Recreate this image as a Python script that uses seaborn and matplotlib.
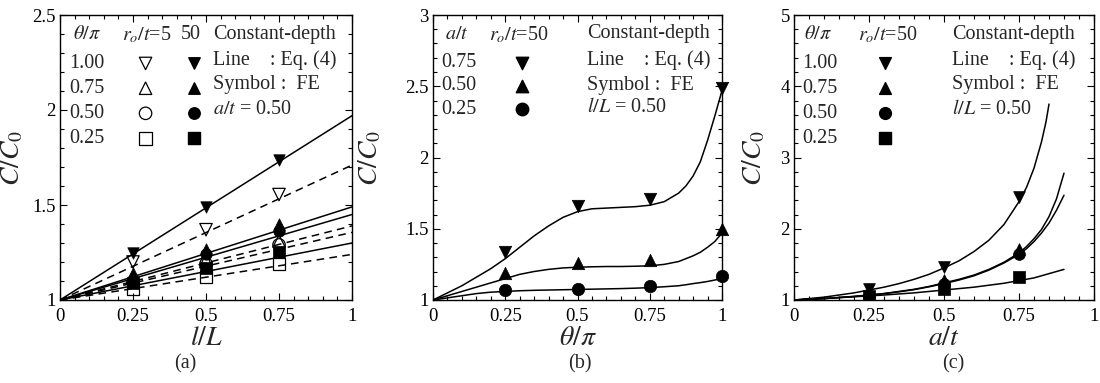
import numpy as np
import pandas as pd
import seaborn as sns
import matplotlib.pyplot as plt
from matplotlib.ticker import MultipleLocator, FixedLocator, FixedFormatter

sns.set_style("ticks")
plt.rcParams["font.family"] = ["Liberation Serif", "DejaVu Serif"]
plt.rcParams["mathtext.fontset"] = "stix"

# ---- panel (a): C/C0 vs l/L, a/t = 0.50 ----
lL_pts = [0.25, 0.5, 0.75]
theta_levels = ["1.00", "0.75", "0.50", "0.25"]
markers = ["v", "^", "o", "s"]
# FE symbols, r0/t = 50 (filled) and r0/t = 5 (hollow)
fe_a_50 = {"1.00": [1.25, 1.49, 1.735],
           "0.75": [1.14, 1.27, 1.40],
           "0.50": [1.105, 1.24, 1.365],
           "0.25": [1.09, 1.17, 1.255]}
fe_a_5 = {"1.00": [1.20, 1.37, 1.555],
          "0.75": [1.12, 1.21, 1.31],
          "0.50": [1.095, 1.19, 1.29],
          "0.25": [1.057, 1.12, 1.19]}
# Eq. (4) lines, values at l/L = 0 and 1
lL_line = [0.0, 1.0]
eq_a_50 = {"1.00": [1.0, 1.97], "0.75": [1.0, 1.49],
           "0.50": [1.0, 1.45], "0.25": [1.0, 1.30]}
eq_a_5 = {"1.00": [1.0, 1.71], "0.75": [1.0, 1.39],
          "0.50": [1.0, 1.356], "0.25": [1.0, 1.24]}

# ---- panel (b): C/C0 vs theta/pi, l/L = 0.50 ----
at_levels = ["0.75", "0.50", "0.25"]
markers_b = ["v", "^", "o"]
theta_pts = [0.25, 0.5, 0.75, 1.0]
fe_b = {"0.75": [1.34, 1.66, 1.71, 2.49],
        "0.50": [1.19, 1.26, 1.28, 1.50],
        "0.25": [1.07, 1.08, 1.095, 1.165]}
theta_curve = [0.0, 0.05, 0.1, 0.15, 0.2, 0.25, 0.3, 0.35, 0.4, 0.45, 0.5,
               0.55, 0.6, 0.65, 0.7, 0.75, 0.8, 0.85, 0.875, 0.9, 0.925, 0.95, 0.975, 1.0]
eq_b = {"0.75": [1.0, 1.05, 1.10, 1.16, 1.22, 1.29, 1.37, 1.45, 1.52, 1.58, 1.62,
                 1.64, 1.645, 1.65, 1.655, 1.665, 1.69, 1.75, 1.80, 1.87, 1.97, 2.12, 2.29, 2.47],
        "0.50": [1.0, 1.03, 1.06, 1.09, 1.12, 1.15, 1.18, 1.20, 1.215, 1.225, 1.23,
                 1.233, 1.235, 1.235, 1.237, 1.24, 1.25, 1.27, 1.29, 1.31, 1.335, 1.37, 1.41, 1.47],
        "0.25": [1.0, 1.015, 1.03, 1.045, 1.055, 1.06, 1.065, 1.068, 1.07, 1.072, 1.074,
                 1.076, 1.078, 1.08, 1.083, 1.087, 1.093, 1.10, 1.107, 1.115, 1.122, 1.13, 1.14, 1.15]}

# ---- panel (c): C/C0 vs a/t, l/L = 0.50 ----
at_pts = [0.25, 0.5, 0.75]
fe_c = {"1.00": [1.15, 1.47, 2.45],
        "0.75": [1.11, 1.28, 1.71],
        "0.50": [1.06, 1.22, 1.65],
        "0.25": [1.06, 1.15, 1.32]}
at_curve_1 = [0.0, 0.05, 0.1, 0.15, 0.2, 0.25, 0.3, 0.35, 0.4, 0.45, 0.5, 0.55,
              0.6, 0.65, 0.7, 0.75, 0.775, 0.8, 0.825, 0.84, 0.85]
at_curve_2 = [0.0, 0.05, 0.1, 0.15, 0.2, 0.25, 0.3, 0.35, 0.4, 0.45, 0.5, 0.55,
              0.6, 0.65, 0.7, 0.75, 0.775, 0.8, 0.825, 0.85, 0.875, 0.9]
at_curve_3 = [0.0, 0.1, 0.2, 0.3, 0.4, 0.5, 0.6, 0.7, 0.8, 0.9]
eq_c = {"1.00": (at_curve_1, [1.0, 1.02, 1.04, 1.07, 1.10, 1.14, 1.18, 1.23, 1.29, 1.36,
                              1.45, 1.55, 1.68, 1.84, 2.06, 2.38, 2.58, 2.85, 3.22, 3.5, 3.75]),
        "0.75": (at_curve_2, [1.0, 1.01, 1.02, 1.035, 1.05, 1.07, 1.09, 1.12, 1.15, 1.19,
                              1.24, 1.29, 1.35, 1.43, 1.53, 1.66, 1.75, 1.86, 1.99, 2.17, 2.42, 2.78]),
        "0.50": (at_curve_2, [1.0, 1.01, 1.02, 1.035, 1.05, 1.07, 1.09, 1.115, 1.145, 1.185,
                              1.23, 1.28, 1.34, 1.42, 1.52, 1.64, 1.72, 1.82, 1.94, 2.08, 2.26, 2.47]),
        "0.25": (at_curve_3, [1.0, 1.02, 1.045, 1.07, 1.10, 1.14, 1.18, 1.235, 1.31, 1.43])}

x_ticks = [0, 0.25, 0.5, 0.75, 1]
x_ticklabels = ["0", "0.25", "0.5", "0.75", "1"]

TICK_FS = 13.5
LAB_FS = 20
TXT_FS = 14.5
MS = 80
LW = 1.1

fig = plt.figure(figsize=(11, 3.83), dpi=100)
ax_a = fig.add_axes([60 / 1100, 83 / 383, 292 / 1100, 285 / 383])
ax_b = fig.add_axes([433 / 1100, 83 / 383, 289 / 1100, 285 / 383])
ax_c = fig.add_axes([794 / 1100, 83 / 383, 300 / 1100, 285 / 383])


def style_axis(ax, ymin, ymax, ymaj, ymin_step, ylabels, xlab, ylab_x):
    ax.set_xlim(0, 1)
    ax.set_ylim(ymin, ymax)
    ax.xaxis.set_major_locator(FixedLocator(x_ticks))
    ax.xaxis.set_major_formatter(FixedFormatter(x_ticklabels))
    ax.xaxis.set_minor_locator(MultipleLocator(0.05))
    yt = list(np.arange(ymin, ymax + 1e-9, ymaj))
    ax.yaxis.set_major_locator(FixedLocator(yt))
    ax.yaxis.set_major_formatter(FixedFormatter(ylabels))
    ax.yaxis.set_minor_locator(MultipleLocator(ymin_step))
    ax.tick_params(which="both", direction="in", top=True, right=True,
                   labelsize=TICK_FS, width=0.8, colors="black")
    ax.tick_params(which="major", length=5)
    ax.tick_params(which="minor", length=3)
    ax.tick_params(axis="x", pad=6)
    ax.tick_params(axis="y", pad=3)
    for sp in ax.spines.values():
        sp.set_linewidth(1.0)
        sp.set_color("black")
    ax.set_xlabel(xlab, fontsize=LAB_FS)
    ax.set_ylabel(r"$C/C_0$", fontsize=LAB_FS)
    ax.xaxis.set_label_coords(0.5, -0.09)
    ax.yaxis.set_label_coords(ylab_x, 0.5)


def note_block(ax, x0, ys, last):
    ax.text(x0, ys[0], "Constant-depth", transform=ax.transAxes, fontsize=TXT_FS, va="center")
    ax.text(x0, ys[1], "Line    : Eq. (4)", transform=ax.transAxes, fontsize=TXT_FS, va="center")
    ax.text(x0, ys[2], "Symbol :  FE", transform=ax.transAxes, fontsize=TXT_FS, va="center")
    ax.text(x0, ys[3], last, transform=ax.transAxes, fontsize=TXT_FS, va="center")


# ---------------- (a) ----------------
ax = ax_a
for lev in theta_levels:
    sns.lineplot(x=lL_line, y=eq_a_50[lev], ax=ax, color="k", lw=LW)
    sns.lineplot(x=lL_line, y=eq_a_5[lev], ax=ax, color="k", lw=LW, linestyle=(0, (5, 3.5)))
for lev, m in zip(theta_levels, markers):
    sns.scatterplot(x=lL_pts, y=fe_a_5[lev], ax=ax, marker=m, s=MS, color="k",
                    facecolor="none", edgecolor="k", linewidth=0.9, zorder=3)
    sns.scatterplot(x=lL_pts, y=fe_a_50[lev], ax=ax, marker=m, s=MS * 0.85, color="k",
                    edgecolor="k", linewidth=0.5, zorder=4)
style_axis(ax, 1, 2.5, 0.5, 0.1, ["1", "1.5", "2", "2.5"], r"$l/L$", -0.12)

rows_a = [0.83, 0.743, 0.655, 0.567]
ax.text(0.093, 0.93, r"$\theta/\pi$", transform=ax.transAxes, fontsize=TXT_FS, ha="center", va="center")
ax.text(0.297, 0.93, r"$r_o/t$=5", transform=ax.transAxes, fontsize=TXT_FS, ha="center", va="center")
ax.text(0.449, 0.93, "50", transform=ax.transAxes, fontsize=TXT_FS, ha="center", va="center")
for lev, m, yy in zip(theta_levels, markers, rows_a):
    ax.text(0.03, yy, lev, transform=ax.transAxes, fontsize=TXT_FS, va="center")
    ax.scatter([0.293], [yy], transform=ax.transAxes, marker=m, s=MS, facecolor="none",
               edgecolor="k", linewidth=0.9, clip_on=False)
    ax.scatter([0.46], [yy], transform=ax.transAxes, marker=m, s=MS * 0.85, color="k", clip_on=False)
note_block(ax, 0.524, [0.93, 0.843, 0.755, 0.667], r"$a/t$ = 0.50")

# ---------------- (b) ----------------
ax = ax_b
for lev, m in zip(at_levels, markers_b):
    sns.lineplot(x=theta_curve, y=eq_b[lev], ax=ax, color="k", lw=LW)
    sns.scatterplot(x=theta_pts, y=fe_b[lev], ax=ax, marker=m, s=MS, color="k",
                    edgecolor="k", linewidth=0.5, zorder=4, clip_on=False)
style_axis(ax, 1, 3, 0.5, 0.1, ["1", "1.5", "2", "2.5", "3"], r"$\theta/\pi$", -0.173)

rows_b = [0.833, 0.751, 0.669]
ax.text(0.082, 0.93, r"$a/t$", transform=ax.transAxes, fontsize=TXT_FS, ha="center", va="center")
ax.text(0.298, 0.93, r"$r_o/t$=50", transform=ax.transAxes, fontsize=TXT_FS, ha="center", va="center")
for lev, m, yy in zip(at_levels, markers_b, rows_b):
    ax.text(0.03, yy, lev, transform=ax.transAxes, fontsize=TXT_FS, va="center")
    ax.scatter([0.307], [yy], transform=ax.transAxes, marker=m, s=MS, color="k", clip_on=False)
note_block(ax, 0.532, [0.936, 0.842, 0.754, 0.674], r"$l/L$ = 0.50")

# ---------------- (c) ----------------
ax = ax_c
for lev, m in zip(theta_levels, markers):
    xs, ys = eq_c[lev]
    sns.lineplot(x=xs, y=ys, ax=ax, color="k", lw=LW)
    sns.scatterplot(x=at_pts, y=fe_c[lev], ax=ax, marker=m, s=MS * 0.9, color="k",
                    edgecolor="k", linewidth=0.5, zorder=4)
style_axis(ax, 1, 5, 1, 0.2, ["1", "2", "3", "4", "5"], r"$a/t$", -0.09)

ax.text(0.08, 0.93, r"$\theta/\pi$", transform=ax.transAxes, fontsize=TXT_FS, ha="center", va="center")
ax.text(0.313, 0.93, r"$r_o/t$=50", transform=ax.transAxes, fontsize=TXT_FS, ha="center", va="center")
for lev, m, yy in zip(theta_levels, markers, rows_a):
    ax.text(0.026, yy, lev, transform=ax.transAxes, fontsize=TXT_FS, va="center")
    ax.scatter([0.303], [yy], transform=ax.transAxes, marker=m, s=MS * 0.9, color="k", clip_on=False)
note_block(ax, 0.526, [0.93, 0.843, 0.755, 0.667], r"$l/L$ = 0.50")

for lbl, xx in zip(["(a)", "(b)", "(c)"], [185, 580, 953]):
    fig.text(xx / 1100, 0.05, lbl, fontsize=TXT_FS, ha="center", va="center")

for ax in (ax_a, ax_b, ax_c):
    if ax.get_legend() is not None:
        ax.get_legend().remove()

fig.savefig("out.png", dpi=100)
